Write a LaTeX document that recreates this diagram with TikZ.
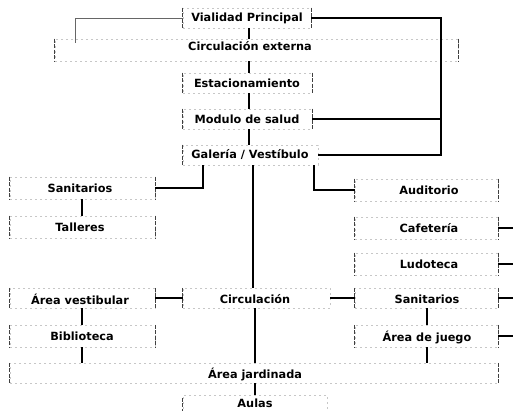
\documentclass[tikz,border=0pt]{standalone}
\usepackage{fontspec}
\setmainfont{DejaVu Sans}
\begin{document}
\begin{tikzpicture}[x=1pt,y=-1pt,
  lbl/.style={font=\bfseries\fontsize{11.3}{12.5}\selectfont, inner sep=0pt, anchor=center},
  bx/.style={draw=black!22, dash pattern=on 2pt off 3pt, line width=0.5pt, inner sep=0pt},
  sides/.style={draw=black!75, dash pattern=on 4pt off 1.5pt, line width=0.7pt},
  link/.style={draw=black, line width=1.1pt},
  faint/.style={draw=black!60, line width=0.7pt}]
\useasboundingbox (0,0) rectangle (513,411);
\fill[white] (0,0) rectangle (513,411);

% main column boxes
\node[bx, minimum width=128pt, minimum height=20pt] (vp)  at (247,18) {};
\node[lbl] (vpt) at (247,18) {Vialidad Principal};
\node[bx, minimum width=403pt, minimum height=22pt] (ce)  at (256.5,50) {};
\node[lbl] (cet) at (250,46) {Circulación externa};
\node[bx, minimum width=129pt, minimum height=20pt] (est) at (247.5,83) {};
\node[lbl] (estt) at (247,83) {Estacionamiento};
\node[bx, minimum width=129pt, minimum height=20pt] (mod) at (247.5,119) {};
\node[lbl] (modt) at (247,119) {Modulo de salud};
\node[bx, minimum width=135pt, minimum height=20pt] (gal) at (250.5,155) {};
\node[lbl] (galt) at (250,155) {Galería / Vestíbulo};

% left column
\node[bx, minimum width=145pt, minimum height=22pt] (sanl) at (82.5,188) {};
\node[lbl] (sanlt) at (80,188) {Sanitarios};
\node[bx, minimum width=145pt, minimum height=22pt] (tal) at (82.5,227) {};
\node[lbl] (talt) at (80,227) {Talleres};
\node[bx, minimum width=145pt, minimum height=20pt] (av) at (82.5,298) {};
\node[lbl] (avt) at (80,299) {Área vestibular};
\node[bx, minimum width=145pt, minimum height=22pt] (bib) at (82.5,336) {};
\node[lbl] (bibt) at (82,336) {Biblioteca};

% right column
\node[bx, minimum width=143pt, minimum height=22pt] (aud) at (426.5,190) {};
\node[lbl] (audt) at (429,190) {Auditorio};
\node[bx, minimum width=143pt, minimum height=22pt] (caf) at (426.5,228) {};
\node[lbl] (caft) at (429,228) {Cafetería};
\node[bx, minimum width=143pt, minimum height=22pt] (lud) at (426.5,264) {};
\node[lbl] (ludt) at (429,264) {Ludoteca};
\node[bx, minimum width=143pt, minimum height=20pt] (sanr) at (426.5,298) {};
\node[lbl] (sanrt) at (427,299) {Sanitarios};
\node[bx, minimum width=143pt, minimum height=22pt] (aju) at (426.5,336) {};
\node[lbl] (ajut) at (427,337) {Área de juego};

% bottom
\node[bx, minimum width=147pt, minimum height=20pt] (circ) at (256.5,298) {};
\node[lbl] (circt) at (255,299) {Circulación};
\node[bx, minimum width=488pt, minimum height=20pt] (aj) at (254,373) {};
\node[lbl] (ajt) at (255,374) {Área jardinada};
\node[bx, minimum width=144pt, minimum height=20pt] (aul) at (255,405) {};
\node[lbl] (ault) at (255,403) {Aulas};

% visible box sides (brackets)
\foreach \n in {vp,ce,est,mod,sanl,tal,av,bib,aud,caf,lud,sanr,aju,aj}
  \draw[sides] (\n.north west) -- (\n.south west) (\n.north east) -- (\n.south east);
\draw[sides] (gal.north west) -- (gal.south west);
\draw[sides] (circ.north west) -- (circ.south west);
\draw[sides] (aul.north west) ++(0,3) -- (aul.south west);

% free ends
\coordinate (tl) at (75,43);
\coordinate (rv) at (441,18);
\coordinate (rb) at (441,155);
\coordinate (rm) at (441,119);

% main spine
\draw[link] (vp.south -| 249,0) -- (ce.north -| 249,0);
\draw[link] (ce.south -| 249,0) -- (est.north -| 249,0);
\draw[link] (est.south -| 249,0) -- (mod.north -| 249,0);
\draw[link] (mod.south -| 249,0) -- (gal.north -| 249,0);
\draw[link] (gal.south -| 253,0) -- (circ.north -| 253,0);
\draw[link] (circ.south -| 255,0) -- (aj.north -| 255,0);
\draw[link] (aj.south -| 255,0) -- (aul.north -| 255,0);

% top loops
\draw[faint] (vp.west) -| (tl);
\draw[link] (vp.east) -- (rv) -- (rb) -- (gal.east);
\draw[link] (mod.east) -- (rm);

% galeria branches
\draw[link] (gal.south -| 203,0) |- (sanl.east);
\draw[link] (gal.south -| 314,0) |- (aud.west);
\draw[link] (sanl.south -| 82,0) -- (tal.north -| 82,0);

% right edge stubs
\draw[link] (caf.east) -- (caf.east -| 513,0);
\draw[link] (lud.east) -- (lud.east -| 513,0);
\draw[link] (sanr.east) -- (sanr.east -| 513,0);
\draw[link] (aju.east) -- (aju.east -| 513,0);

% bottom row
\draw[link] (av.east) -- (circ.west);
\draw[link] (circ.east) -- (sanr.west);
\draw[link] (av.south -| 82,0) -- (bib.north -| 82,0);
\draw[link] (bib.south -| 82,0) -- (aj.north -| 82,0);
\draw[link] (sanr.south -| 427,0) -- (aju.north -| 427,0);
\draw[link] (aju.south -| 427,0) -- (aj.north -| 427,0);
\end{tikzpicture}
\end{document}
